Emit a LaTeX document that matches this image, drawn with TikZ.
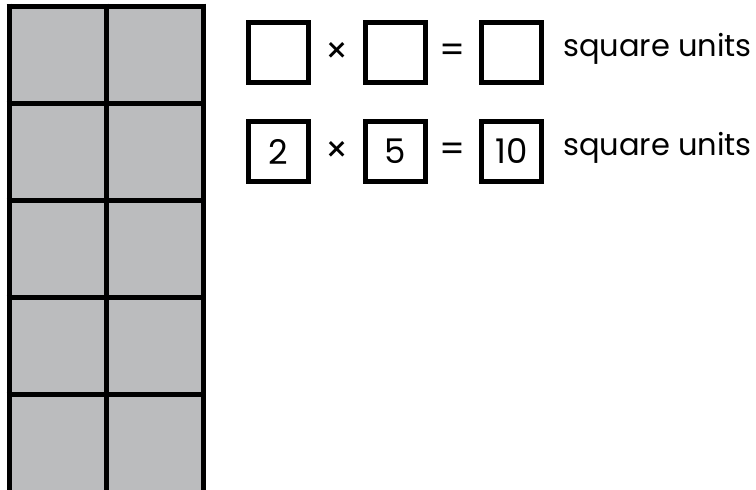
\documentclass[tikz,border=0pt]{standalone}
\usepackage{fontspec}
\setmainfont{Poppins}
\definecolor{cellgray}{HTML}{BBBCBE}
\begin{document}
\begin{tikzpicture}[x=1pt,y=-1pt,
  gridline/.style={line width=5pt},
  ansbox/.style={draw,line width=5pt,minimum size=60pt,inner sep=0pt,font=\fontsize{34}{36}\selectfont},
  sym/.style={font=\fontsize{36}{38}\selectfont},
  lbl/.style={anchor=west,inner sep=0pt,font=\fontsize{30.5}{32}\selectfont}]
\useasboundingbox (0,0) rectangle (756,490);
\begin{scope}
\clip (0,0) rectangle (756,490);
\fill[cellgray] (9,6) rectangle (203,500);
\foreach \y in {6,103,200,297,394}
  \draw[gridline] (6.5,\y) -- (205.5,\y);
\foreach \x in {9,106,203}
  \draw[gridline] (\x,3.5) -- (\x,500);
\end{scope}
% row 1
\node[ansbox] (a1) at (278.5,52.5) {};
\node[sym] (t1) at (337,53) {×};
\node[ansbox] (b1) at (395.5,52.5) {};
\node[sym] (e1) at (453,53) {=};
\node[ansbox] (c1) at (511.5,52.5) {};
\node[lbl] (u1) at (563,49) {square units};
% row 2
\node[ansbox] (a2) at (278.5,151.5) {2};
\node[sym] (t2) at (337,152) {×};
\node[ansbox] (b2) at (395.5,151.5) {5};
\node[sym] (e2) at (453,152) {=};
\node[ansbox] (c2) at (511.5,151.5) {10};
\node[lbl] (u2) at (563,148) {square units};
\end{tikzpicture}
\end{document}
